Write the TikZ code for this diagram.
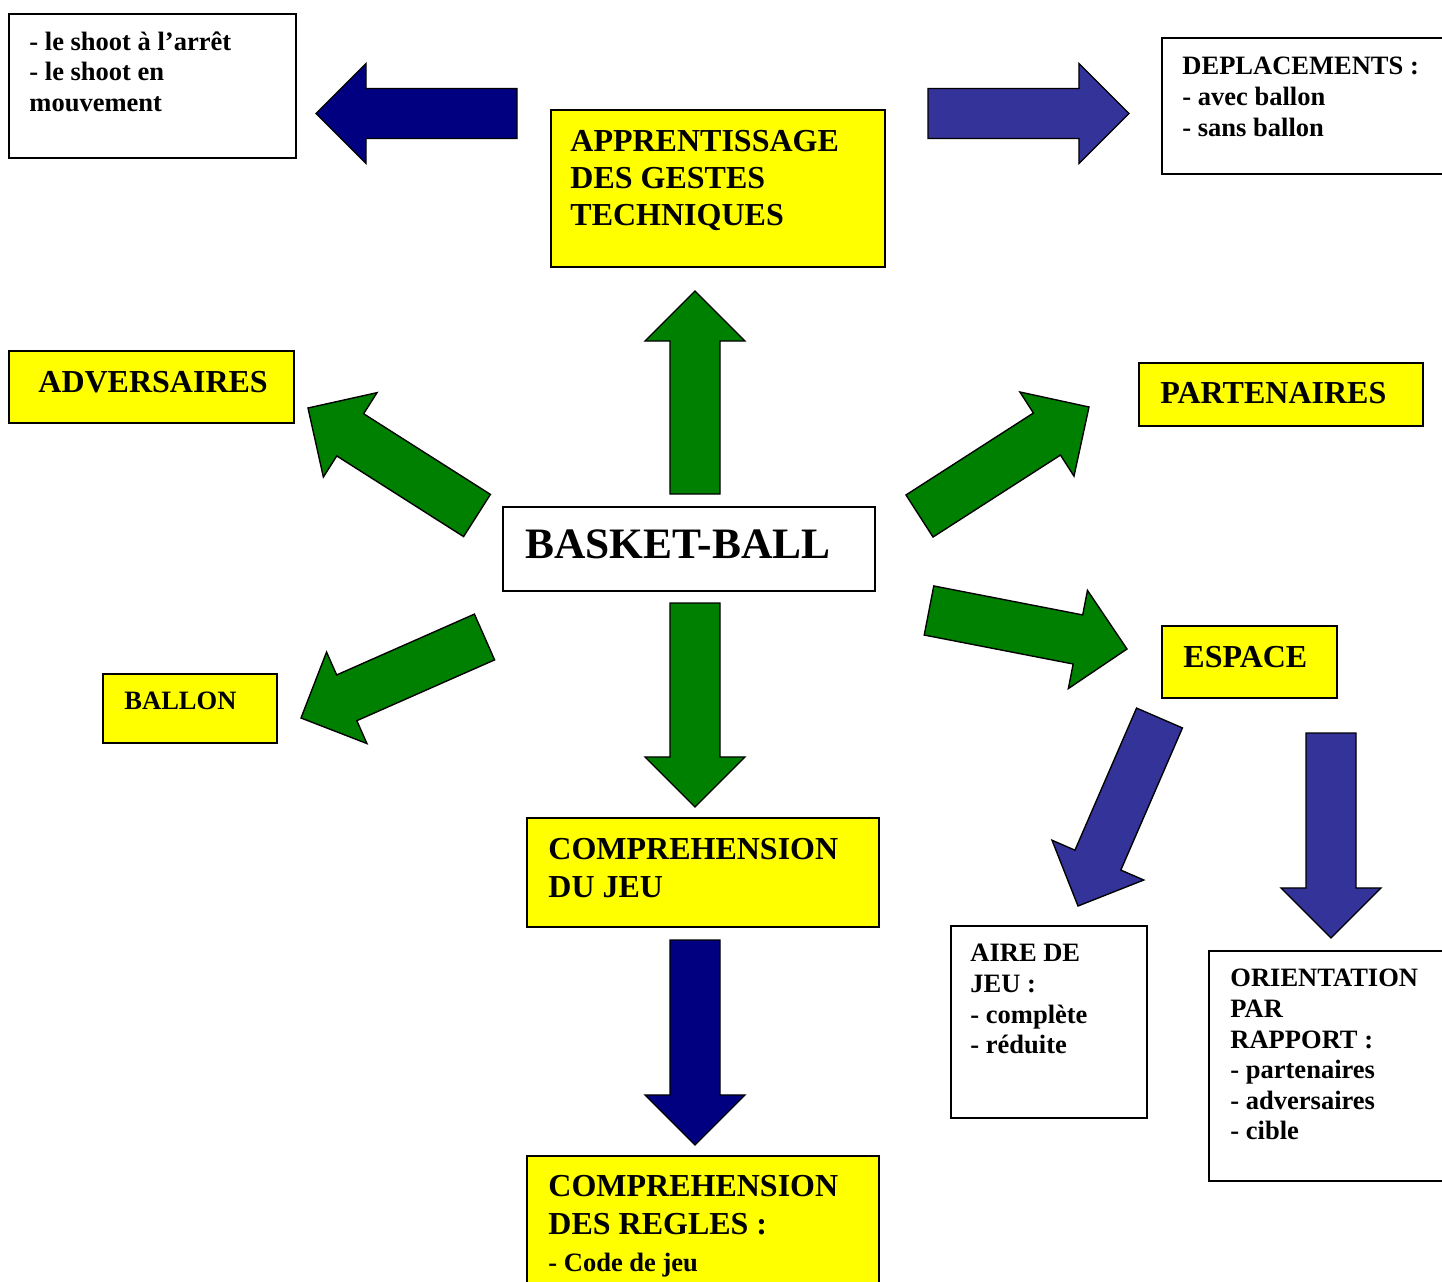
\documentclass[tikz,border=0pt]{standalone}
\usepackage{fontspec}
\setmainfont{Liberation Serif}
\usetikzlibrary{calc, fit}

\definecolor{boxYellow}{HTML}{FFFF00}
\definecolor{arrowGreen}{HTML}{008000}
\definecolor{arrowNavy}{HTML}{000080}
\definecolor{arrowBlue}{HTML}{333399}

% block arrow sizes (half shaft, half head, head length)
\def\shaftH{10.94pt}
\def\headH{21.88pt}
\def\headL{21.88pt}

% #1 fill colour, #2 tail coordinate, #3 tip coordinate
\newcommand{\blockarrow}[3]{%
  \coordinate (neck) at ($(#3)!\headL!(#2)$);
  \filldraw[arrowline, fill=#1]
    ($(#2)!\shaftH!90:(#3)$) -- ($(neck)!\shaftH!90:(#3)$)
    -- ($(neck)!\headH!90:(#3)$) -- (#3)
    -- ($(neck)!\headH!-90:(#3)$) -- ($(neck)!\shaftH!-90:(#3)$)
    -- ($(#2)!\shaftH!-90:(#3)$) -- cycle;
}

\tikzset{
  boxline/.style={draw=black, line width=0.9pt, inner sep=0pt},
  ybox/.style={boxline, fill=boxYellow},
  wbox/.style={boxline, fill=white},
  arrowline/.style={draw=black, line width=0.6pt, line join=miter},
  txtBig/.style={font=\fontsize{14}{16.2}\selectfont\bfseries,
                 text width=160pt, align=flush left, inner sep=0pt, anchor=base west},
  txtSmall/.style={font=\fontsize{11.6}{13.35}\selectfont\bfseries,
                   text width=160pt, align=flush left, inner sep=0pt, anchor=base west},
  txtTitle/.style={font=\fontsize{19}{22}\selectfont\bfseries,
                   text width=160pt, align=flush left, inner sep=0pt, anchor=base west},
}

\begin{document}
\begin{tikzpicture}[x=0.4375pt, y=-0.4375pt]

    \useasboundingbox (0,0) rectangle (1442,1282);
    \clip (0,0) rectangle (1442,1282);

    % ==========================================================
    % 1. BOXES
    % ==========================================================
    \node[wbox, fit={(9,14) (296,158)}]      (bShoot)  {};
    \node[wbox, fit={(1162,38) (1460,174)}]  (bDepl)   {};
    \node[ybox, fit={(551,110) (885,267)}]   (bApp)    {};
    \node[ybox, fit={(9,351) (294,423)}]     (bAdv)    {};
    \node[ybox, fit={(1139,363) (1423,426)}] (bPart)   {};
    \node[wbox, fit={(503,507) (875,591)}]   (bBasket) {};
    \node[ybox, fit={(103,674) (277,743)}]   (bBallon) {};
    \node[ybox, fit={(1162,626) (1337,698)}] (bEspace) {};
    \node[ybox, fit={(527,818) (879,927)}]   (bJeu)    {};
    \node[ybox, fit={(527,1156) (879,1300)}] (bRegles) {};
    \node[wbox, fit={(951,926) (1147,1118)}] (bAire)   {};
    \node[wbox, fit={(1209,951) (1460,1181)}] (bOrient) {};

    % ==========================================================
    % 2. BOX TEXTS
    % ==========================================================
    \node[txtSmall] (tShoot) at ($(bShoot.north west)+(21,37.5)$)
        {- le shoot à l’arrêt\\- le shoot en\\mouvement};
    \node[txtSmall] (tDepl) at ($(bDepl.north west)+(21,38)$)
        {DEPLACEMENTS :\\- avec ballon\\- sans ballon};
    \node[txtBig] (tApp) at ($(bApp.north west)+(20,42.5)$)
        {APPRENTISSAGE\\DES GESTES\\TECHNIQUES};
    \node[txtBig] (tAdv) at ($(bAdv.north west)+(30,42.5)$) {ADVERSAIRES};
    \node[txtBig] (tPart) at ($(bPart.north west)+(22,42)$) {PARTENAIRES};
    \node[txtTitle] (tBasket) at ($(bBasket.north west)+(23,53)$) {BASKET-BALL};
    \node[txtSmall] (tBallon) at ($(bBallon.north west)+(22,37)$) {BALLON};
    \node[txtBig] (tEspace) at ($(bEspace.north west)+(22,43)$) {ESPACE};
    \node[txtBig] (tJeu) at ($(bJeu.north west)+(22,43)$)
        {COMPREHENSION\\DU JEU};
    \node[txtBig] (tRegles) at ($(bRegles.north west)+(22,42)$)
        {COMPREHENSION\\DES REGLES :\\{\fontsize{11.6}{16.2}\selectfont - Code de jeu}};
    \node[txtSmall] (tAire) at ($(bAire.north west)+(20,37)$)
        {AIRE DE\\JEU :\\- complète\\- réduite};
    \node[txtSmall] (tOrient) at ($(bOrient.north west)+(22,37)$)
        {ORIENTATION\\PAR\\RAPPORT :\\- partenaires\\- adversaires\\- cible};

    % ==========================================================
    % 3. ARROW END POINTS (tail / tip)
    % ==========================================================
    \coordinate (shootTail)  at (517,113.5);  \coordinate (shootTip)  at (316,113.5);
    \coordinate (deplTail)   at (928,113.5);  \coordinate (deplTip)   at (1129,113.5);
    \coordinate (appTail)    at (695,494);    \coordinate (appTip)    at (695,291);
    \coordinate (jeuTail)    at (695,603);    \coordinate (jeuTip)    at (695,807);
    \coordinate (reglesTail) at (695,940);    \coordinate (reglesTip) at (695,1145);
    \coordinate (advTail)    at (477,515.5);  \coordinate (advTip)    at (308,408);
    \coordinate (ballonTail) at (484.5,637);  \coordinate (ballonTip) at (301,718);
    \coordinate (partTail)   at (919.5,516);  \coordinate (partTip)   at (1089,407);
    \coordinate (espTail)    at (929,610.5);  \coordinate (espTip)    at (1127,649);
    \coordinate (aireTail)   at (1159.5,718); \coordinate (aireTip)   at (1078,906);
    \coordinate (orTail)     at (1331,733);   \coordinate (orTip)     at (1331,938);

    % ==========================================================
    % 4. BLOCK ARROWS
    % ==========================================================
    \blockarrow{arrowNavy}{shootTail}{shootTip}
    \blockarrow{arrowBlue}{deplTail}{deplTip}
    \blockarrow{arrowGreen}{appTail}{appTip}
    \blockarrow{arrowGreen}{jeuTail}{jeuTip}
    \blockarrow{arrowNavy}{reglesTail}{reglesTip}
    \blockarrow{arrowGreen}{advTail}{advTip}
    \blockarrow{arrowGreen}{ballonTail}{ballonTip}
    \blockarrow{arrowGreen}{partTail}{partTip}
    \blockarrow{arrowGreen}{espTail}{espTip}
    \blockarrow{arrowBlue}{aireTail}{aireTip}
    \blockarrow{arrowBlue}{orTail}{orTip}

\end{tikzpicture}
\end{document}
